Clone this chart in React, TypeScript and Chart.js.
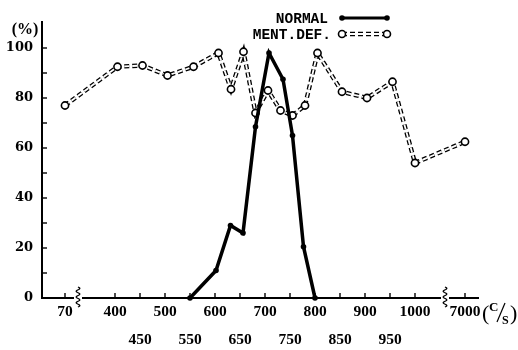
import React, { useEffect, useRef } from 'react';
import { Chart, registerables } from 'chart.js';

Chart.register(...registerables);

// ---- data (frequency in c/s, response in %) ----
const normalFreq = [550, 602, 631, 656, 681, 708, 736, 755, 777, 800];
const normalPct = [0, 11, 29, 26, 68.5, 98, 87.5, 65, 20.5, 0];

const mentFreq = [70, 405, 455, 505, 557, 607, 632, 657, 681, 706, 731, 755, 780, 805, 854, 904, 955, 1000, 7000];
const mentPct = [77, 92.5, 93, 89, 92.5, 98, 83.5, 98.5, 74, 83, 75, 73, 77, 98, 82.5, 80, 86.5, 54, 62.5];

const xTickFreqs = [70, 400, 450, 500, 550, 600, 650, 700, 750, 800, 850, 900, 950, 1000, 7000];
const lowerRowTicks = [450, 550, 650, 750, 850, 950];
const yTickValues = [0, 10, 20, 30, 40, 50, 60, 70, 80, 90, 100];
const yLabelStep = 20;

const seriesNames = ['NORMAL', 'MENT.DEF.'];

// broken axis: 70 and 7000 are placed on compressed segments
const toPos = (f: number) => (f < 200 ? 300 + (f - 70) : f > 2000 ? 1100 + (f - 7000) : f);
const axisBreaks = [326, 1060];

const SERIF = '"Liberation Serif", "Times New Roman", serif';
const WIDE_SERIF = '"DejaVu Serif", "Liberation Serif", serif';

const decorPlugin = {
  id: 'decor',
  afterDraw(chart: any) {
    const ctx = chart.ctx;
    const xs = chart.scales.x;
    const ys = chart.scales.y;
    const area = chart.chartArea;
    const by = area.bottom;
    const lx = area.left;
    ctx.save();
    ctx.strokeStyle = '#000';
    ctx.fillStyle = '#000';
    // tick marks (inside)
    ctx.lineWidth = 1.4;
    xTickFreqs.forEach((f) => {
      const px = xs.getPixelForValue(toPos(f));
      ctx.beginPath();
      ctx.moveTo(px, by);
      ctx.lineTo(px, by - 5);
      ctx.stroke();
    });
    yTickValues.forEach((v) => {
      if (v === 0) return;
      const py = ys.getPixelForValue(v);
      ctx.beginPath();
      ctx.moveTo(lx, py);
      ctx.lineTo(lx + 5, py);
      ctx.stroke();
    });
    // axis breaks
    axisBreaks.forEach((p) => {
      const px = xs.getPixelForValue(p);
      ctx.fillStyle = '#fff';
      ctx.fillRect(px - 4, by - 3, 8, 6);
      ctx.beginPath();
      ctx.lineWidth = 1.3;
      const top = by - 11;
      const h = 20;
      for (let i = 0; i <= 40; i++) {
        const t = i / 40;
        const xx = px + 1.8 * Math.sin(t * Math.PI * 2 * 3.5);
        const yy = top + t * h;
        if (i === 0) ctx.moveTo(xx, yy);
        else ctx.lineTo(xx, yy);
      }
      ctx.stroke();
    });
    ctx.fillStyle = '#000';
    // legend
    const legX0 = 342;
    const legX1 = 387;
    const rows = [18, 34];
    ctx.font = 'bold 14.5px "Liberation Mono", "DejaVu Sans Mono", monospace';
    ctx.textAlign = 'right';
    ctx.textBaseline = 'middle';
    ctx.fillText(seriesNames[0], 328, rows[0] + 1);
    ctx.fillText(seriesNames[1], 331, rows[1] + 1);
    // normal legend line
    ctx.lineWidth = 3;
    ctx.setLineDash([]);
    ctx.beginPath();
    ctx.moveTo(legX0, rows[0]);
    ctx.lineTo(legX1, rows[0]);
    ctx.stroke();
    [legX0, legX1].forEach((x) => {
      ctx.beginPath();
      ctx.arc(x, rows[0], 2.8, 0, Math.PI * 2);
      ctx.fill();
    });
    // ment legend double dashed line
    ctx.setLineDash([5, 3]);
    ctx.lineWidth = 4.4;
    ctx.strokeStyle = '#000';
    ctx.beginPath();
    ctx.moveTo(legX0, rows[1]);
    ctx.lineTo(legX1, rows[1]);
    ctx.stroke();
    ctx.lineWidth = 1.8;
    ctx.strokeStyle = '#fff';
    ctx.beginPath();
    ctx.moveTo(legX0, rows[1]);
    ctx.lineTo(legX1, rows[1]);
    ctx.stroke();
    ctx.setLineDash([]);
    ctx.strokeStyle = '#000';
    ctx.lineWidth = 1.6;
    [legX0, legX1].forEach((x) => {
      ctx.beginPath();
      ctx.arc(x, rows[1], 3.5, 0, Math.PI * 2);
      ctx.fillStyle = '#fff';
      ctx.fill();
      ctx.stroke();
    });
    ctx.fillStyle = '#000';
    // y unit
    ctx.font = 'bold 16px ' + SERIF;
    ctx.textAlign = 'center';
    ctx.textBaseline = 'middle';
    ctx.fillText('(%)', 25, 30);
    // x unit (C/S)
    ctx.textAlign = 'left';
    ctx.font = '22px ' + SERIF;
    ctx.fillText('(', 482, 314);
    ctx.fillText(')', 510, 314);
    ctx.font = 'bold 13px ' + SERIF;
    ctx.fillText('C', 489, 308);
    ctx.font = 'bold 12px ' + SERIF;
    ctx.fillText('S', 502, 321);
    ctx.lineWidth = 1.2;
    ctx.beginPath();
    ctx.moveTo(497, 322);
    ctx.lineTo(505, 303);
    ctx.stroke();
    ctx.restore();
  },
};

export default function App() {
  const ref = useRef<HTMLCanvasElement | null>(null);

  useEffect(() => {
    if (!ref.current) return;
    const normalData = normalFreq.map((f, i) => ({ x: toPos(f), y: normalPct[i] }));
    const mentData = mentFreq.map((f, i) => ({ x: toPos(f), y: mentPct[i] }));
    const chart = new Chart(ref.current, {
      type: 'line',
      data: {
        datasets: [
          {
            label: seriesNames[0],
            data: normalData,
            borderColor: '#000',
            borderWidth: 3.5,
            pointRadius: 2.8,
            pointBackgroundColor: '#000',
            pointBorderWidth: 0,
            tension: 0,
            order: 0,
            clip: false,
          },
          {
            label: seriesNames[1],
            data: mentData,
            borderColor: '#fff',
            borderWidth: 1.8,
            borderDash: [5, 3],
            pointRadius: 3.6,
            pointBackgroundColor: '#fff',
            pointBorderColor: '#000',
            pointBorderWidth: 1.6,
            tension: 0,
            order: 1,
            clip: false,
          },
          {
            label: seriesNames[1] + ' outline',
            data: mentData,
            borderColor: '#000',
            borderWidth: 4.4,
            borderDash: [5, 3],
            pointRadius: 0,
            tension: 0,
            order: 2,
            clip: false,
          },
        ],
      },
      options: {
        responsive: false,
        animation: false,
        devicePixelRatio: 1,
        layout: { padding: { top: 22, right: 40, left: 0, bottom: 0 } },
        plugins: { legend: { display: false }, tooltip: { enabled: false } },
        scales: {
          x: {
            type: 'linear',
            min: 254,
            max: 1126,
            afterBuildTicks: (s: any) => {
              s.ticks = xTickFreqs.map((f) => ({ value: toPos(f) }));
            },
            afterFit: (s: any) => {
              s.height = 52;
            },
            grid: { display: false, drawTicks: false },
            border: { display: true, color: '#000', width: 2 },
            ticks: {
              autoSkip: false,
              maxRotation: 0,
              minRotation: 0,
              padding: 0,
              color: '#000',
              font: { family: SERIF, size: 15.5, weight: 'bold', lineHeight: '28px' },
              callback: (_v: any, i: number) => {
                const f = xTickFreqs[i];
                return lowerRowTicks.includes(f) ? ['', String(f)] : String(f);
              },
            },
          },
          y: {
            type: 'linear',
            min: 0,
            max: 110.4,
            afterBuildTicks: (s: any) => {
              s.ticks = yTickValues.map((v) => ({ value: v }));
            },
            afterFit: (s: any) => {
              s.width = 42;
            },
            grid: { display: false, drawTicks: false },
            border: { display: true, color: '#000', width: 2 },
            ticks: {
              padding: 9,
              color: '#000',
              font: { family: WIDE_SERIF, size: 13, weight: 'bold' },
              callback: (v: any) => (Number(v) % yLabelStep === 0 ? String(v) : ''),
            },
          },
        },
      },
      plugins: [decorPlugin],
    } as any);
    return () => chart.destroy();
  }, []);

  return (
    <div style={{ position: 'absolute', left: 0, top: 0, width: 518, height: 350, background: '#fff' }}>
      <canvas ref={ref} width={518} height={350} />
    </div>
  );
}
